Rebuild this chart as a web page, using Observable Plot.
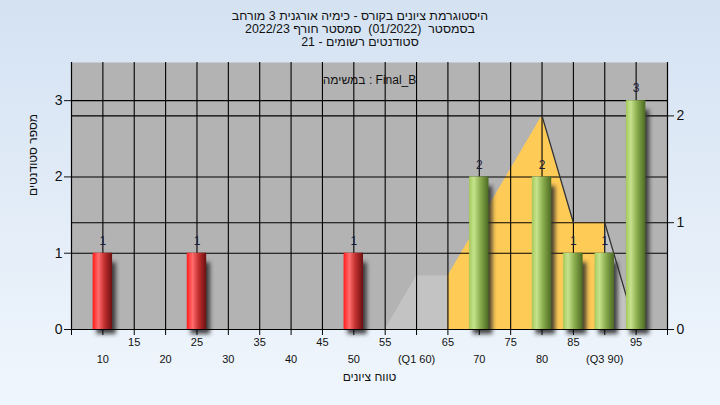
<!DOCTYPE html>
<html><head><meta charset="utf-8">
<script src="https://cdn.jsdelivr.net/npm/d3@7"></script>
<script src="https://cdn.jsdelivr.net/npm/@observablehq/plot@0.6"></script>
<style>
html,body{margin:0;padding:0;width:720px;height:405px;overflow:hidden;}
body{background:linear-gradient(#d4e2f2,#f0f6fd);font-family:"Liberation Sans",Arial,sans-serif;}
#title{height:46px;padding-top:10px;text-align:center;font-size:12.4px;line-height:13px;color:#111;direction:rtl;white-space:pre}
#chart svg{display:block}
</style></head><body>
<div id="title" dir="rtl"></div>
<div id="chart"></div>
<script>
const titleLines = [
  "היסטוגרמת ציונים בקורס - כימיה אורגנית 3 מורחב",
  "בסמסטר  (01/2022)  סמסטר חורף 2022/23",
  "סטודנטים רשומים - 21"
];
const innerLabel = "במשימה : Final_B";
const xLabel = "טווח ציונים";
const yLabel = "מספר סטודנטים";

// bars
const grades = [10, 25, 50, 70, 80, 85, 90, 95];
const counts = [1, 1, 1, 2, 2, 1, 1, 3];
const passMark = 55;

// distribution polygon (right axis units)
const curveX = [55, 60, 65, 80, 85, 90, 95];
const curveY = [0, 0.5, 0.5, 2, 1, 1, 0];

// axes
const leftTicks = [0, 1, 2, 3];
const rightTicks = [0, 1, 2];
const leftMax = 3.5, rightMax = 2.5;
const rowTopTicks = [15, 25, 35, 45, 55, 65, 75, 85, 95];
const rowBottomTicks = [10, 20, 30, 40, 50, 60, 70, 80, 90];
const rowBottomLabels = ["10", "20", "30", "40", "50", "(Q1 60)", "70", "80", "(Q3 90)"];
const gridStep = 5;

document.getElementById("title").innerHTML = titleLines.map(t => `<div>${t}</div>`).join("");

const ratio = leftMax / rightMax;
const bars = grades.map((g, i) => ({grade: g, count: counts[i], pass: g >= passMark}));
const curve = curveX.map((x, i) => ({x, y: curveY[i] * ratio}));
const greyLeft = curve.slice(0, 3);
const yellow = curve.slice(2, 6);
const greyRight = curve.slice(5, 7);
const dark1 = curve.slice(3, 5);
const dark2 = curve.slice(5, 7);
const hw = 1.55;

const chart = Plot.plot({
  width: 720, height: 349,
  marginLeft: 71, marginRight: 53, marginTop: 6, marginBottom: 76,
  x: {domain: [5, 100], axis: null},
  y: {domain: [0, leftMax], axis: null},
  style: {background: "transparent", fontFamily: "'Liberation Sans', Arial, sans-serif", fontSize: "12px", color: "#111"},
  marks: [
    Plot.frame({fill: "#b3b3b3", stroke: "none"}),
    Plot.areaY(greyLeft, {x: "x", y: "y", fill: "#c3c3c3"}),
    Plot.areaY(greyRight, {x: "x", y: "y", fill: "#c3c3c3"}),
    Plot.areaY(yellow, {x: "x", y: "y", fill: "#ffcb57"}),
    Plot.ruleX(d3.range(5 + gridStep, 100, gridStep), {stroke: "#000", strokeWidth: 1.1}),
    Plot.ruleY(leftTicks.slice(1), {stroke: "#000", strokeWidth: 1.1}),
    Plot.ruleY(rightTicks.slice(1).map(v => v * ratio), {stroke: "#000", strokeWidth: 1.1}),
    Plot.line(dark1, {x: "x", y: "y", stroke: "#333", strokeWidth: 1.3}),
    Plot.line(dark2, {x: "x", y: "y", stroke: "#333", strokeWidth: 1.3}),
    Plot.rectY(bars, {x1: d => d.grade - hw + 0.6, x2: d => d.grade + hw + 0.6, y1: 0, y2: d => d.count - 0.06, dy: 5, fill: "#2a2a2a", fillOpacity: 0.85, ariaDescription: "shadow"}),
    Plot.rectY(bars, {x1: d => d.grade - hw, x2: d => d.grade + hw, y1: 0, y2: "count", fill: d => d.pass ? "url(#greenGrad)" : "url(#redGrad)"}),
    Plot.text(bars, {x: "grade", y: "count", text: d => String(d.count), dy: -12, fill: "#1b1b3a", fontSize: 12}),
    Plot.ruleY([0], {stroke: "#000", strokeWidth: 1.2}),
    Plot.ruleX([5, 100], {stroke: "#000", strokeWidth: 1.2}),
    Plot.axisX({ticks: d3.range(5, 101, gridStep), tickSize: 6, tickFormat: () => "", stroke: "#000"}),
    Plot.axisY({anchor: "left", ticks: leftTicks, tickSize: 7, tickPadding: 2, fontSize: 14, tickFormat: d => String(d)}),
    Plot.axisY({anchor: "right", ticks: rightTicks.map(v => v * ratio), tickSize: 6, tickPadding: 3, fontSize: 14, tickFormat: d => String(Math.round(d / ratio))}),
    Plot.text(rowTopTicks, {x: d => d, text: d => String(d), frameAnchor: "bottom", dy: 16, fontSize: 11}),
    Plot.text(rowBottomTicks, {x: d => d, text: (d, i) => rowBottomLabels[i], frameAnchor: "bottom", dy: 33, fontSize: 11}),
    Plot.text([xLabel], {text: d => d, frameAnchor: "bottom", dy: 51, fontSize: 12}),
    Plot.text([yLabel], {text: d => d, frameAnchor: "left", dx: -38, rotate: -90, fontSize: 12}),
    Plot.text([innerLabel], {text: d => d, frameAnchor: "top", dy: 13, fontSize: 12})
  ]
});

const svg = d3.select(chart);
svg.insert("defs", ":first-child").html(`
  <linearGradient id="redGrad" x1="0" x2="1" y1="0" y2="0">
    <stop offset="0" stop-color="#ff1c1c"/>
    <stop offset="0.3" stop-color="#ff6c6c"/>
    <stop offset="0.6" stop-color="#c43030"/>
    <stop offset="1" stop-color="#6a1010"/>
  </linearGradient>
  <linearGradient id="greenGrad" x1="0" x2="1" y1="0" y2="0">
    <stop offset="0" stop-color="#a4c95c"/>
    <stop offset="0.25" stop-color="#c6e38c"/>
    <stop offset="0.6" stop-color="#86a94a"/>
    <stop offset="1" stop-color="#4c6a24"/>
  </linearGradient>
  <filter id="blur" x="-50%" y="-20%" width="200%" height="140%"><feGaussianBlur stdDeviation="2.2"/></filter>`);
let sh = chart.querySelector('g[aria-description="shadow"]');
if (!sh) sh = chart.querySelectorAll('g[aria-label="rect"]')[0];
if (sh) sh.setAttribute("filter", "url(#blur)");
document.getElementById("chart").appendChild(chart);
</script></body></html>
